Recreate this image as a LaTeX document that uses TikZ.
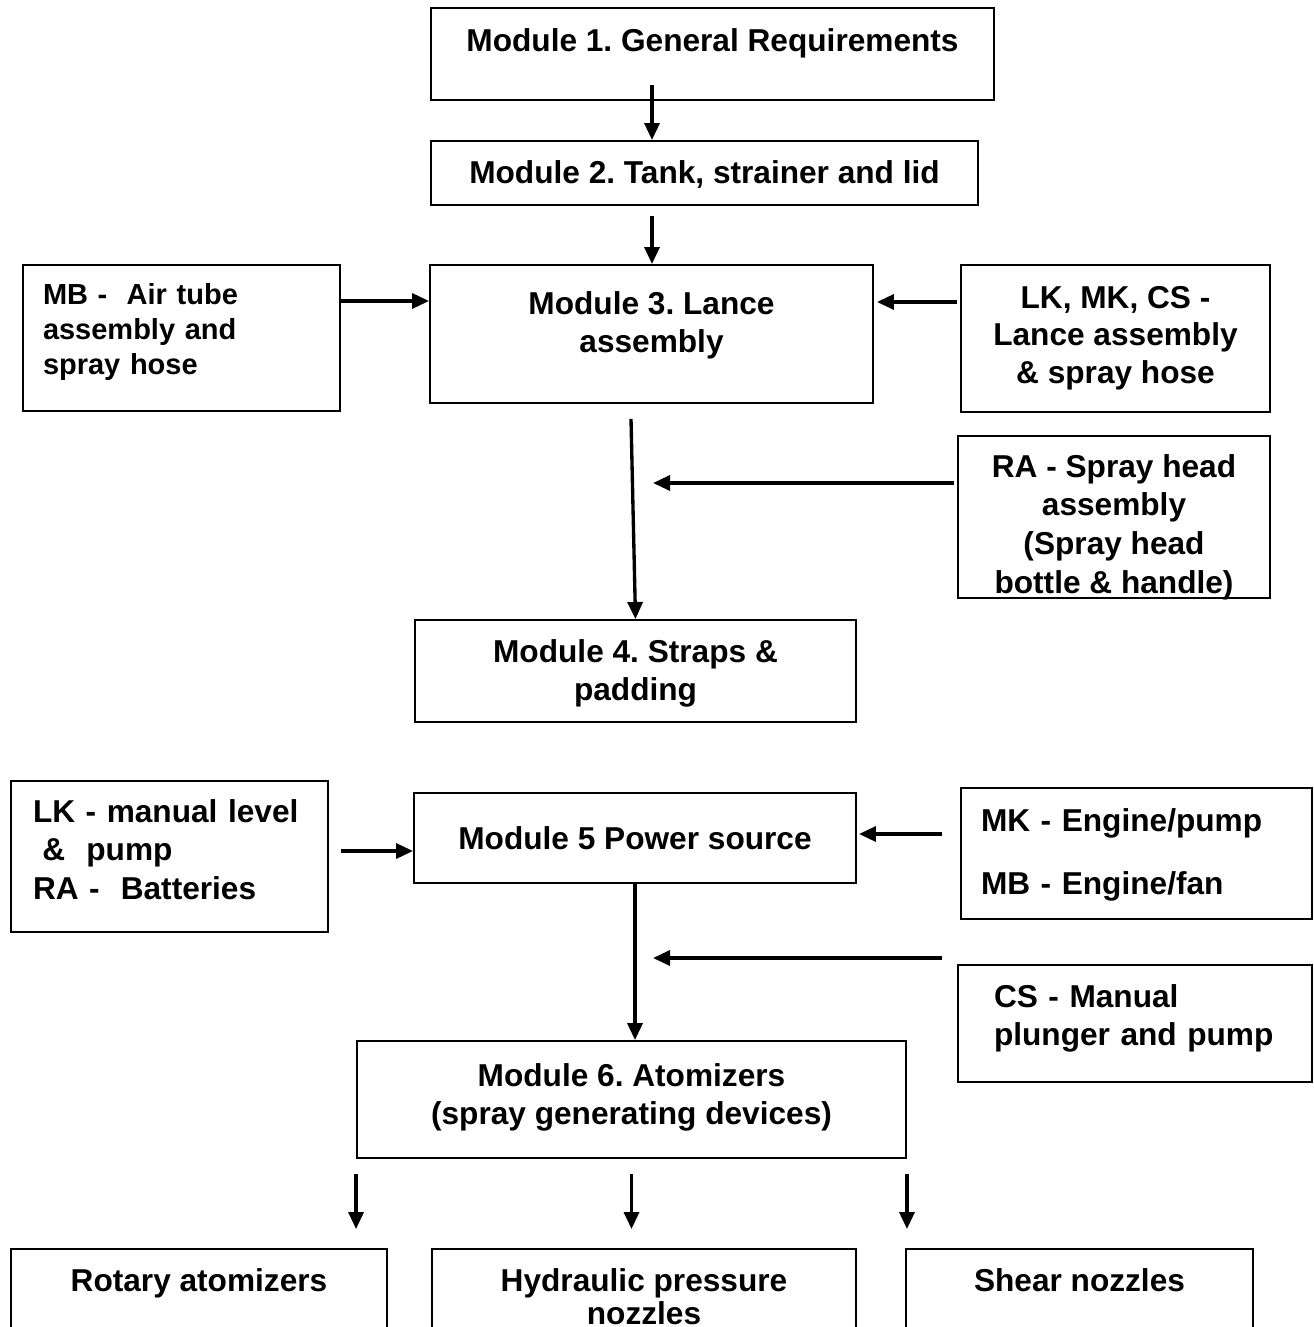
\documentclass[tikz,border=0pt]{standalone}
\usepackage{fontspec}
\setmainfont{Liberation Sans}
\usetikzlibrary{arrows.meta,calc}
\frenchspacing

\tikzset{
	box/.style={draw, line width=1.1pt, inner sep=0pt, align=center, text height=13pt,
		font=\fontsize{18}{21.6}\selectfont\bfseries},
	arr/.style={line width=1.9pt, -{Triangle[length=0.34cm,width=0.3cm]}}
}

\begin{document}
\begin{tikzpicture}
		\useasboundingbox (0,0) rectangle (26.26,-26.54);
		\clip (0,0) rectangle (26.26,-26.54);
		
		\coordinate (spine) at (13.04,0);
		\coordinate (joinA) at (13.06,-9.66);
		\coordinate (joinB) at (13.06,-19.16);
		
		% main column
		\node (m1) at (14.25,-1.08) [box, minimum width=11.26cm, minimum height=1.84cm, text depth=16.2pt] {Module 1. General Requirements};
		\node (m2) at (14.09,-3.46) [box, minimum width=10.94cm, minimum height=1.28cm, text depth=1.4pt] {Module 2. Tank, strainer and lid};
		\node (m3) at (13.03,-6.68) [box, minimum width=8.86cm, minimum height=2.76cm, text height=20.8pt, text depth=0pt] {Module 3. Lance\\ assembly};
		\node (m4) at (12.71,-13.42) [box, minimum width=8.82cm, minimum height=2.04cm, text height=33.2pt, text depth=0pt] {Module 4. Straps \&\\ padding};
		\node (m5) at (12.70,-16.76) [box, minimum width=8.84cm, minimum height=1.80cm, text depth=0.2pt] {Module 5 Power source};
		\node (m6) at (12.63,-21.99) [box, minimum width=10.98cm, minimum height=2.34cm, text height=28.2pt, text depth=0pt] {Module 6. Atomizers\\ (spray generating devices)};
		
		% side boxes
		\node (mb) at (3.63,-6.76) [box, minimum width=6.34cm, minimum height=2.92cm, text width=5.54cm, align=left, text height=12pt, text depth=50.2pt, font=\fontsize{16.5}{19.9}\selectfont\bfseries] {MB - ~Air tube\\ assembly and\\ spray hose};
		\node (lmc) at (22.31,-6.77) [box, minimum width=6.18cm, minimum height=2.94cm, text height=50.8pt, text depth=0pt, font=\fontsize{18}{21.3}\selectfont\bfseries] {LK, MK, CS -\\ Lance assembly\\ \& spray hose};
		\node (ra) at (22.28,-10.34) [box, minimum width=6.24cm, minimum height=3.24cm, text height=86.8pt, text depth=0pt, font=\fontsize{18}{22}\selectfont\bfseries] {RA - Spray head\\ assembly\\ (Spray head\\ bottle \& handle)};
		\node (lk) at (3.39,-17.13) [box, minimum width=6.34cm, minimum height=3.02cm, text width=5.46cm, align=left, text depth=52pt, font=\fontsize{18}{21.9}\selectfont\bfseries] {LK - manual level\\ \hspace*{0.3em}\&~ pump\\ RA - ~Batteries};
		\node (mk) at (22.73,-17.07) [box, minimum width=7.02cm, minimum height=2.62cm, text width=6.22cm, align=left, text depth=38.3pt] {MK - Engine/pump\\[14.4pt] MB - Engine/fan};
		\node (cs) at (22.70,-20.47) [box, minimum width=7.08cm, minimum height=2.34cm, text width=5.64cm, align=left, text depth=31.4pt] {CS - Manual\\ plunger and pump};
		
		% atomizer types
		\node (rot) at (3.98,-26.18) [box, minimum width=7.52cm, minimum height=2.4cm, text depth=33.2pt] {Rotary atomizers};
		\node (hyd) at (12.88,-26.18) [box, minimum width=8.48cm, minimum height=2.4cm, text height=17.4pt, text depth=0pt, font=\fontsize{18}{18.8}\selectfont\bfseries] {Hydraulic pressure\\ nozzles};
		\node (shr) at (21.59,-26.18) [box, minimum width=6.94cm, minimum height=2.4cm, text depth=33.2pt] {Shear nozzles};
		
		% arrows
		\draw[arr, shorten <=-0.32cm] (m1.south -| spine) -- (m2.north -| spine);
		\draw[arr, shorten <=0.2cm] (m2.south -| spine) -- (m3.north -| spine);
		\draw[arr] (mb.east |- 0,-6.02) -- (m3.west |- 0,-6.02);
		\draw[arr, shorten <=0.06cm, shorten >=0.06cm] (lmc.west |- 0,-6.04) -- (m3.east |- 0,-6.04);
		\draw[arr] ([xshift=-0.41cm,yshift=-0.3cm]m3.south) -- (m4.north);
		\draw[arr, shorten <=0.06cm] (ra.west |- joinA) -- (joinA);
		
		\draw[arr, shorten <=0.24cm] (lk.east |- 0,-17.02) -- (m5.west |- 0,-17.02);
		\draw[arr, shorten <=0.36cm, shorten >=0.04cm] (mk.west |- 0,-16.68) -- (m5.east |- 0,-16.68);
		\draw[arr] (m5.south) -- (m5.south |- m6.north);
		\draw[arr, shorten <=0.3cm] (cs.west |- joinB) -- (joinB);
		
		\draw[arr, shorten <=0.3cm, shorten >=0.38cm] (m6.south west) -- (m6.south west |- rot.north);
		\draw[arr, shorten <=0.3cm, shorten >=0.38cm] (m6.south) -- (m6.south |- hyd.north);
		\draw[arr, shorten <=0.3cm, shorten >=0.38cm] (m6.south east) -- (m6.south east |- shr.north);
	\end{tikzpicture}
\end{document}
